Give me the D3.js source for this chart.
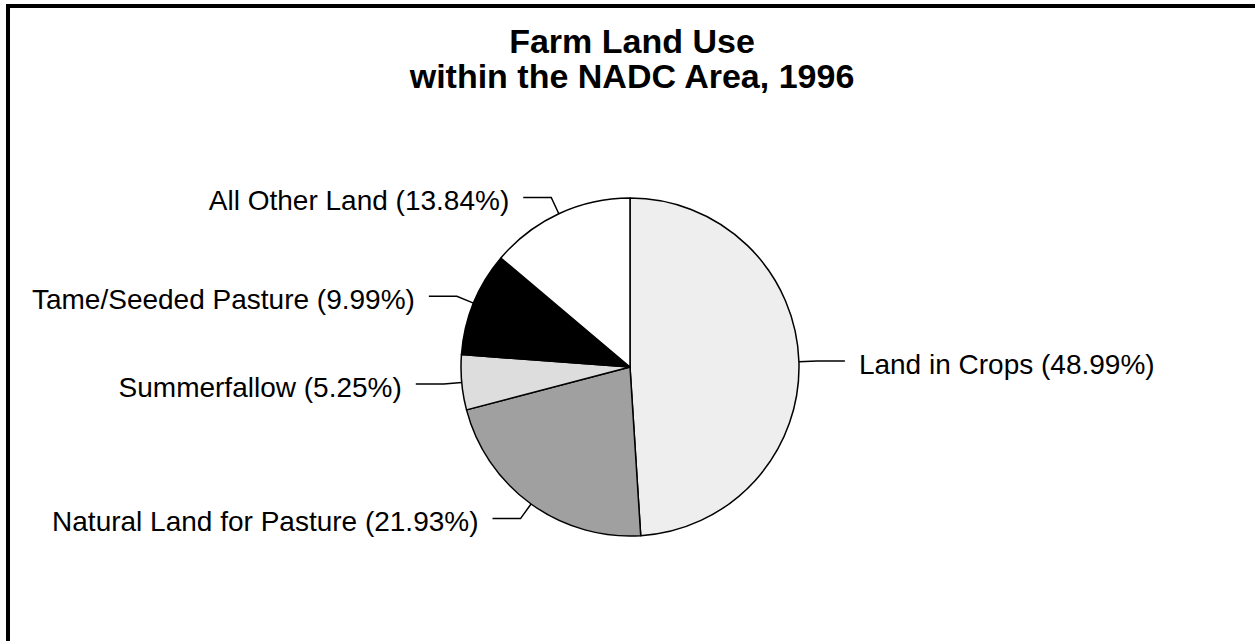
<!DOCTYPE html>
<html>
<head>
<meta charset="utf-8">
<script src="https://cdn.jsdelivr.net/npm/d3@7"></script>
<style>
  body { margin: 0; background: #fff; }
  svg { display: block; }
</style>
</head>
<body>
<div id="chart"></div>
<script>
// chart size
var w = 1255;
var h = 641;

// data
var categories = ["Land in Crops", "Natural Land for Pasture", "Summerfallow", "Tame/Seeded Pasture", "All Other Land"];
var shares = [48.99, 21.93, 5.25, 9.99, 13.84];
var titleLines = ["Farm Land Use", "within the NADC Area, 1996"];

var fills = d3.scaleOrdinal()
    .domain(categories)
    .range(["#eeeeee", "#a0a0a0", "#dddddd", "#000000", "#ffffff"]);

var cx = 630, cy = 367, r = 169;
var elbowR = r + 18, run = 28, gap = 14;

var svg = d3.select("#chart")
    .append("svg")
    .attr("width", w)
    .attr("height", h);

// frame (only top and left edges show)
svg.append("rect")
    .attr("x", 8)
    .attr("y", 6)
    .attr("width", w + 20)
    .attr("height", h + 20)
    .attr("fill", "none")
    .attr("stroke", "#000")
    .attr("stroke-width", 4);

// title
svg.append("text")
    .attr("text-anchor", "middle")
    .style("font-family", "Arial, 'Liberation Sans', sans-serif")
    .style("font-weight", "bold")
    .style("font-size", "34px")
    .selectAll("tspan")
    .data(titleLines)
    .enter()
    .append("tspan")
    .attr("x", 632)
    .attr("y", function(d, i) { return 53 + i * 35; })
    .text(function(d) { return d; });

var data = categories.map(function(c, i) { return { name: c, value: shares[i] }; });

var pie = d3.pie()
    .sort(null)
    .value(function(d) { return d.value; });

var arcs = pie(data);

var arc = d3.arc().innerRadius(0).outerRadius(r);
var edgeArc = d3.arc().innerRadius(r).outerRadius(r);
var elbowArc = d3.arc().innerRadius(elbowR).outerRadius(elbowR);

var g = svg.append("g")
    .attr("transform", "translate(" + cx + "," + cy + ")");

// slices
g.selectAll("path.slice")
    .data(arcs)
    .enter()
    .append("path")
    .attr("class", "slice")
    .attr("d", arc)
    .attr("fill", function(d) { return fills(d.data.name); })
    .attr("stroke", "#000")
    .attr("stroke-width", 1.5)
    .attr("stroke-linejoin", "round");

// leader lines
g.selectAll("polyline")
    .data(arcs)
    .enter()
    .append("polyline")
    .attr("points", function(d) {
        var a = edgeArc.centroid(d);
        var b = elbowArc.centroid(d);
        var side = b[0] > 0 ? 1 : -1;
        return [a, b, [b[0] + side * run, b[1]]].map(function(p) { return p.join(","); }).join(" ");
    })
    .attr("fill", "none")
    .attr("stroke", "#000")
    .attr("stroke-width", 1.5);

// labels
g.selectAll("text.label")
    .data(arcs)
    .enter()
    .append("text")
    .attr("class", "label")
    .attr("x", function(d) {
        var b = elbowArc.centroid(d);
        var side = b[0] > 0 ? 1 : -1;
        return b[0] + side * (run + gap);
    })
    .attr("y", function(d) { return elbowArc.centroid(d)[1]; })
    .attr("dy", "0.45em")
    .attr("text-anchor", function(d) { return elbowArc.centroid(d)[0] > 0 ? "start" : "end"; })
    .style("font-family", "Arial, 'Liberation Sans', sans-serif")
    .style("font-size", "28px")
    .text(function(d) { return d.data.name + " (" + d.data.value.toFixed(2) + "%)"; });
</script>
</body>
</html>
